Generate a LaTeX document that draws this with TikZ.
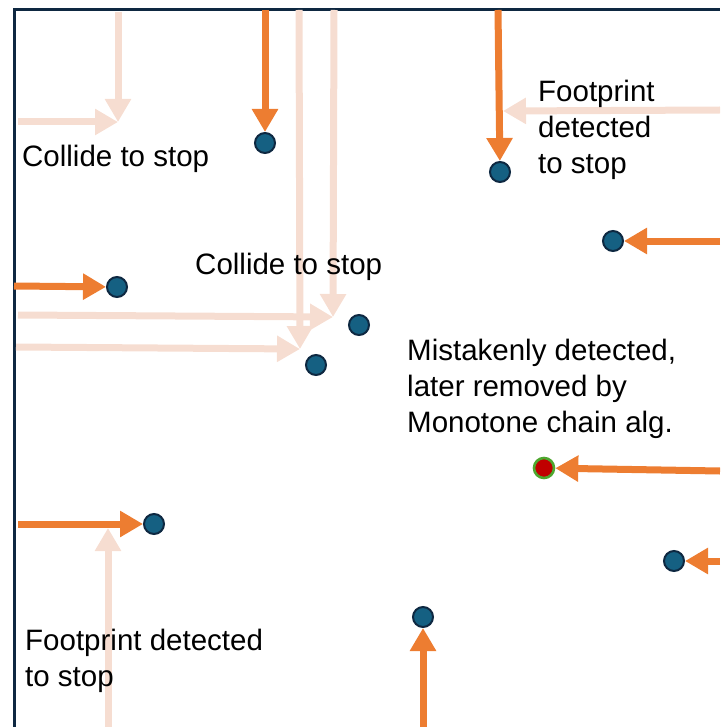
\documentclass[tikz,border=0pt]{standalone}
\usepackage{fontspec}
\setmainfont{Liberation Sans}
\usetikzlibrary{arrows.meta, positioning}
\definecolor{rand}{HTML}{0E2841}
\definecolor{punkt}{HTML}{156082}
\definecolor{hitorange}{HTML}{ED7D31}
\definecolor{blass}{HTML}{F6DDD1}
\definecolor{falsch}{HTML}{C00000}
\definecolor{gruen}{HTML}{4EA72E}

\begin{document}
\begin{tikzpicture}[x=1pt, y=-1pt,
        dot/.style={circle, draw=rand, line width=2pt, fill=punkt,
                    minimum size=20pt, inner sep=0pt},
        hit/.style={-{Triangle[width=25pt, length=23pt]}, line width=7pt, hitorange},
        ghost/.style={-{Triangle[width=25pt, length=23pt]}, line width=7pt, blass},
        lbl/.style={anchor=west, inner sep=0pt, align=left,
                    font=\fontsize{29.5}{36}\selectfont}
      ]
      \useasboundingbox (0,0) rectangle (720,727);
      \draw[rand, line width=3pt] (14,727) -- (14,10) -- (720,10);

      % pale tracks
      \coordinate (t1) at (118,122);
      \coordinate (t2) at (300,349);
      \coordinate (t3) at (333,317);
      \coordinate (t4) at (503,111);
      \coordinate (t5) at (108,528);
      \draw[ghost] (118,12) -- (t1);
      \draw[ghost] (18,122) -- (t1);
      \draw[ghost] (299,10) -- (t2);
      \draw[ghost] (16,347) -- (t2);
      \draw[ghost] (334,10) -- (t3);
      \draw[ghost] (18,315) -- (t3);
      \draw[ghost] (720,110) -- (t4);
      \draw[ghost] (108,727) -- (t5);

      % detected points
      \node[dot] (p1)  at (265,143) {};
      \node[dot] (p2)  at (500,172) {};
      \node[dot] (p3)  at (613,241) {};
      \node[dot] (p4)  at (117,287) {};
      \node[dot] (p5)  at (359,325) {};
      \node[dot] (p6)  at (316,365) {};
      \node[dot, fill=falsch, draw=gruen, line width=2.6pt] (p7) at (544,468) {};
      \node[dot] (p8)  at (154,524) {};
      \node[dot] (p9)  at (674,561) {};
      \node[dot] (p10) at (423,617) {};

      \draw[hit] (265,10) -- (p1);
      \draw[hit] (498,10) -- (p2);
      \draw[hit] (720,241) -- (p3);
      \draw[hit] (14,286) -- (p4);
      \draw[hit] (720,471) -- (p7);
      \draw[hit] (18,524) -- (p8);
      \draw[hit] (720,561) -- (p9);
      \draw[hit] (423,727) -- (p10);

      \node[lbl] (c1) at (22,159) {Collide to stop};
      \node[lbl] (c2) at (195,267) {Collide to stop};
      \node[lbl] (f1) at (538,130) {Footprint\\detected\\to stop};
      \node[lbl] (m1) at (407,389) {Mistakenly detected,\\later removed by\\Monotone chain alg.};
      \node[lbl] (f2) at (25,661) {Footprint detected\\to stop};
    \end{tikzpicture}
\end{document}
